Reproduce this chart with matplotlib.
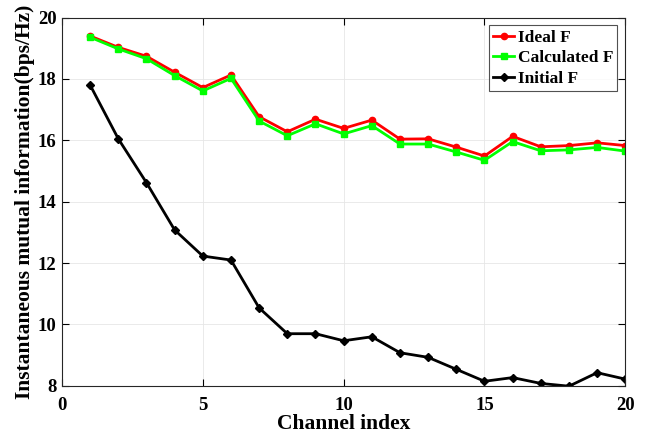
import numpy as np
import matplotlib
matplotlib.use('Agg')
import matplotlib.pyplot as plt

plt.rcParams['font.family'] = ['Liberation Serif', 'DejaVu Serif']
plt.rcParams['font.weight'] = 'bold'

channel = np.arange(1, 21)
ideal_f = [19.40, 19.03, 18.74, 18.22, 17.72, 18.13, 16.77, 16.28, 16.69, 16.39,
           16.66, 16.04, 16.05, 15.78, 15.49, 16.13, 15.79, 15.83, 15.92, 15.83]
calc_f = [19.36, 18.98, 18.66, 18.11, 17.61, 18.02, 16.63, 16.15, 16.54, 16.21,
          16.48, 15.88, 15.88, 15.62, 15.35, 15.96, 15.66, 15.69, 15.77, 15.65]
init_f = [17.80, 16.05, 14.62, 13.08, 12.23, 12.10, 10.54, 9.70, 9.70, 9.47,
          9.60, 9.08, 8.93, 8.54, 8.15, 8.27, 8.08, 7.99, 8.43, 8.22]

fig = plt.figure(figsize=(6.49, 4.4), dpi=100)
ax = fig.add_axes([0.0955, 0.123, 0.868, 0.837])

ax.plot(channel, ideal_f, '-o', color='red', lw=2, ms=4.5, label='Ideal F')
ax.plot(channel, calc_f, '-s', color='#00ff00', lw=2, ms=4.5, label='Calculated F')
ax.plot(channel, init_f, '-D', color='black', lw=2, ms=4, label='Initial F')

ax.set_xlim(0, 20)
ax.set_ylim(8, 20)
ax.set_xticks([0, 5, 10, 15, 20])
ax.set_yticks([8, 10, 12, 14, 16, 18, 20])
ax.grid(True, color='#e6e6e6', lw=0.6)
ax.tick_params(direction='in', top=True, right=True, labelsize=13.5, length=5)
ax.tick_params(axis='x', pad=8)
ax.tick_params(axis='y', pad=4)
for s in ax.spines.values():
    s.set_linewidth(0.8)
    s.set_color('#262626')

ax.set_xlabel('Channel index', fontsize=15.5, fontweight='bold', labelpad=0)
ax.set_ylabel('Instantaneous mutual information(bps/Hz)', fontsize=15.5, fontweight='bold', labelpad=2)

leg = ax.legend(loc='upper right', fontsize=12.5, handlelength=1.2, handletextpad=0.2,
                borderpad=0.25, labelspacing=0.25, fancybox=False, edgecolor='#262626',
                borderaxespad=0.45)
leg.get_frame().set_linewidth(0.8)

fig.savefig('out.png', dpi=100)
